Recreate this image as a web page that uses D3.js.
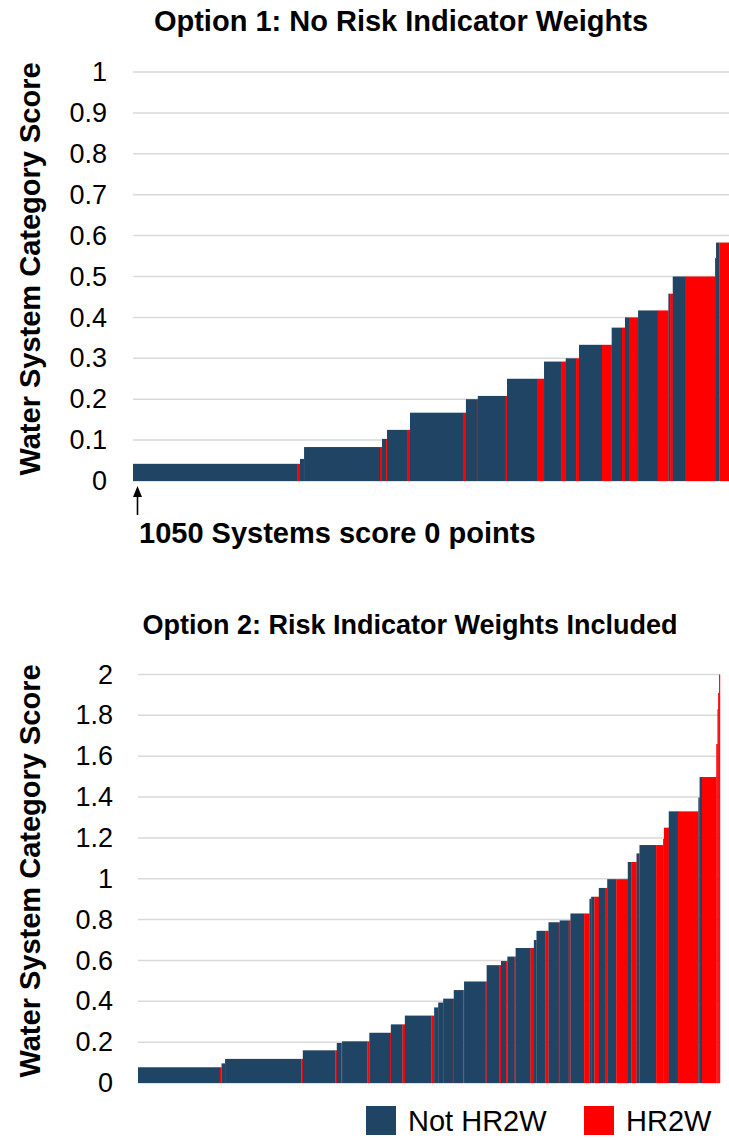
<!DOCTYPE html>
<html>
<head>
<meta charset="utf-8">
<script src="https://cdn.jsdelivr.net/npm/d3@7"></script>
<style>
  html, body { margin: 0; padding: 0; background: #ffffff; }
  svg { display: block; font-family: "Liberation Sans", Arial, sans-serif; }
</style>
</head>
<body>
<svg id="chart" width="729" height="1140"></svg>
<script>
// ---------- DATA ----------
const categories = ["Not HR2W", "HR2W"];
const colors = ["#1f4464", "#ff0000"];

// Option 1: sorted runs of systems (score, number of systems, group index)
const opt1Scores = [0.042,0.042,0.054,0.083,0.083,0.103,0.103,0.125,0.125,0.167,0.167,0.2,0.2,0.208,0.208,
  0.25,0.25,0.292,0.292,0.3,0.3,0.333,0.333,0.375,0.375,0.4,0.4,0.417,0.417,0.458,0.458,0.5,0.5,0.545,0.583,0.583];
const opt1Counts = [1050,19,26,486,13,26,6,128,19,339,19,70,6,179,8,
  192,45,109,30,66,19,147,62,66,19,26,58,126,68,11,17,83,188,6,21,62];
const opt1Groups = [0,1,0,0,1,0,1,0,1,0,1,0,1,0,1,
  0,1,0,1,0,1,0,1,0,1,0,1,0,1,0,1,0,1,0,0,1];

// Option 2: sorted runs of systems (score, number of systems, group index)
const opt2Scores = [0.077,0.077,0.096,0.118,0.118,0.16,0.16,0.196,0.196,0.204,0.204,0.246,0.246,0.287,0.287,
  0.33,0.33,0.37,0.394,0.413,0.413,0.455,0.455,0.497,0.497,0.577,0.577,0.597,0.597,0.619,0.619,0.661,0.661,
  0.70,0.745,0.745,0.787,0.787,0.796,0.796,0.83,0.83,0.902,0.912,0.912,0.955,0.955,0.998,0.998,
  1.082,1.082,1.124,1.124,1.165,1.165,1.195,1.25,1.33,1.33,1.397,1.498,1.498,1.66,1.83,1.91,2.0];
const opt2Counts = [525,11,23,489,10,208,10,30,4,163,12,133,5,75,15,
  171,17,26,32,62,6,62,4,139,6,80,12,33,8,47,6,96,21,
  17,58,19,66,6,58,11,88,34,11,21,28,40,14,58,74,
  24,32,15,4,107,45,5,31,58,132,8,15,92,8,4,6,6];
const opt2Groups = [0,1,0,0,1,0,1,0,1,0,1,0,1,0,1,
  0,1,0,0,0,1,0,1,0,1,0,1,0,1,0,1,0,1,
  0,0,1,0,1,0,1,0,1,0,0,1,0,1,0,1,
  0,1,0,1,0,1,1,1,0,1,0,0,1,1,0,1,1];

const opt1Ticks = [0,0.1,0.2,0.3,0.4,0.5,0.6,0.7,0.8,0.9,1];
const opt2Ticks = [0,0.2,0.4,0.6,0.8,1,1.2,1.4,1.6,1.8,2];

const titles = ["Option 1: No Risk Indicator Weights", "Option 2: Risk Indicator Weights Included"];
const yTitle = "Water System Category Score";
const annotation = "1050 Systems score 0 points";

// ---------- DRAW ----------
const svg = d3.select("#chart");

function drawPanel(cfg) {
  const { scores, counts, groups, ticks, yMax, x0, x1, yTop, yBottom, labelX, title, titleX, titleY, titleSize, yTitleY } = cfg;
  const starts = [0, ...d3.cumsum(counts)];
  const total = starts[starts.length - 1];
  const x = d3.scaleLinear().domain([0, total]).range([x0, x1]);
  const y = d3.scaleLinear().domain([0, yMax]).range([yBottom, yTop]);

  const g = svg.append("g");

  // gridlines
  g.selectAll("line.grid").data(ticks).join("line")
    .attr("x1", x0).attr("x2", x1)
    .attr("y1", d => y(d)).attr("y2", d => y(d))
    .attr("stroke", "#d9d9d9").attr("stroke-width", 1.5);

  // tick labels via axis
  const axis = d3.axisLeft(y).tickValues(ticks).tickSize(0).tickPadding(0)
    .tickFormat(d => d3.format("~g")(d));
  const ag = g.append("g").attr("transform", `translate(${labelX},0)`).call(axis);
  ag.select(".domain").remove();
  ag.selectAll("text").attr("font-size", 27).attr("fill", "#000")
    .attr("font-family", "'Liberation Sans', Arial, sans-serif");

  // bars
  const segs = scores.map((v, i) => ({ v, s: starts[i], e: starts[i + 1], gi: groups[i] }));
  g.selectAll("rect.bar").data(segs).join("rect")
    .attr("x", d => x(d.s))
    .attr("width", d => Math.max(0.6, x(d.e) - x(d.s)) + 0.2)
    .attr("y", d => y(d.v))
    .attr("height", d => y(0) - y(d.v))
    .attr("fill", d => colors[d.gi]);

  // title
  g.append("text").attr("x", titleX).attr("y", titleY)
    .attr("text-anchor", "middle").attr("font-weight", "bold").attr("font-size", titleSize)
    .text(title);

  // y axis title
  g.append("text")
    .attr("transform", `translate(40,${yTitleY}) rotate(-90)`)
    .attr("text-anchor", "middle").attr("font-weight", "bold").attr("font-size", 29)
    .text(yTitle);
  return { x, y };
}

drawPanel({ scores: opt1Scores, counts: opt1Counts, groups: opt1Groups, ticks: opt1Ticks, yMax: 1,
  x0: 133, x1: 729, yTop: 72, yBottom: 481, labelX: 107, title: titles[0], titleX: 401, titleY: 31, titleSize: 29, yTitleY: 269 });

drawPanel({ scores: opt2Scores, counts: opt2Counts, groups: opt2Groups, ticks: opt2Ticks, yMax: 2,
  x0: 138, x1: 720, yTop: 674.5, yBottom: 1083, labelX: 113, title: titles[1], titleX: 410, titleY: 634, titleSize: 27, yTitleY: 871 });

// annotation arrow
svg.append("line").attr("x1", 137.5).attr("x2", 137.5).attr("y1", 515).attr("y2", 494)
  .attr("stroke", "#000").attr("stroke-width", 1.6);
svg.append("path").attr("d", "M137.5,486 L133,497 L142,497 Z").attr("fill", "#000");
svg.append("text").attr("x", 139).attr("y", 543).attr("font-weight", "bold").attr("font-size", 29)
  .text(annotation);

// legend
const legend = svg.append("g");
const legendX = [366, 584];
categories.forEach((c, i) => {
  legend.append("rect").attr("x", legendX[i]).attr("y", 1106).attr("width", 30).attr("height", 29)
    .attr("fill", colors[i]);
  legend.append("text").attr("x", legendX[i] + 42).attr("y", 1131).attr("font-size", 29).text(c);
});
</script>
</body>
</html>
